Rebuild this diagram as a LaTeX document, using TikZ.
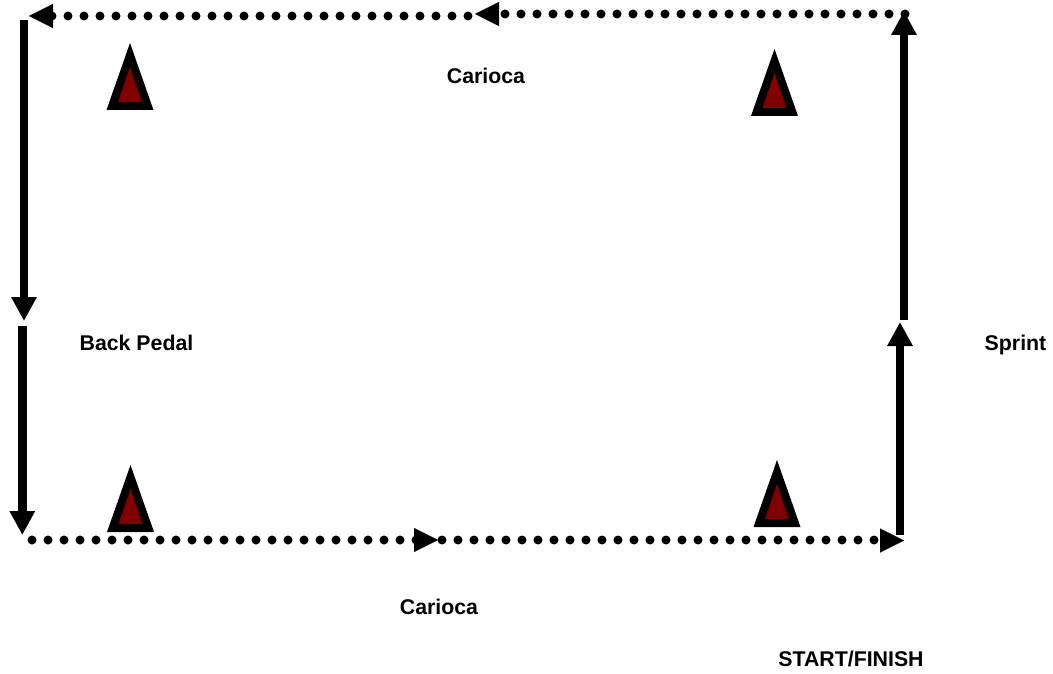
\documentclass[tikz,border=0pt]{standalone}
\usepackage{fontspec}
\setmainfont{Liberation Sans}
\usetikzlibrary{arrows.meta}
\definecolor{cone}{HTML}{800000}
\tikzset{
  lbl/.style={font=\fontsize{21.3pt}{24pt}\selectfont\bfseries,inner sep=0pt,anchor=base},
  solidarrow/.style={line width=8.4pt,-{Triangle[length=24pt,width=24pt]}},
  dotline/.style={line width=9pt,line cap=round,dash pattern=on 0pt off 16pt},
  headonly/.style={line width=0.1pt,-{Triangle[length=24pt,width=24pt]}},
  coneouter/.style={fill=black,draw=none},
  coneinner/.style={fill=cone,draw=none},
}
\newcommand{\myCone}[2]{%
  \fill[coneouter] (#1,#2) -- (#1-23.5,#2+67) -- (#1+23.5,#2+67) -- cycle;
  \fill[coneinner] (#1,#2+24) -- (#1-12,#2+59) -- (#1+12,#2+59) -- cycle;
}
\begin{document}
\begin{tikzpicture}[x=1pt,y=-1pt]
\useasboundingbox (0,0) rectangle (1053,674);
% top, right to left
\coordinate (t0) at (905,14);
\coordinate (t1) at (504,14);
\coordinate (t1b) at (498,14);
\coordinate (t1t) at (475,14);
\coordinate (t2) at (468,16);
\coordinate (t3) at (51,16);
\coordinate (t3b) at (52,16);
\coordinate (t3t) at (29,16);
% left, downwards
\coordinate (l0) at (24,20);
\coordinate (l1) at (24,321);
\coordinate (l2) at (22.3,326);
\coordinate (l3) at (22.3,535);
% bottom, left to right
\coordinate (b0) at (32,540);
\coordinate (b1) at (417,540);
\coordinate (b1b) at (415,540);
\coordinate (b1t) at (438,540);
\coordinate (b2) at (442,540);
\coordinate (b3) at (875,540);
\coordinate (b3b) at (880,540.5);
\coordinate (b3t) at (904,540.5);
% right, upwards
\coordinate (r0) at (900,535);
\coordinate (r1) at (900,322);
\coordinate (r2) at (904,320);
\coordinate (r3) at (904,11);
\myCone{130}{43}
\myCone{774.5}{49}
\myCone{130.5}{465}
\myCone{777}{460}
\draw[dotline] (t0) -- (t1);
\draw[headonly] (t1b) -- (t1t);
\draw[dotline] (t2) -- (t3);
\draw[headonly] (t3b) -- (t3t);
\draw[solidarrow] (l0) -- (l1);
\draw[solidarrow] (l2) -- (l3);
\draw[dotline] (b0) -- (b1);
\draw[headonly] (b1b) -- (b1t);
\draw[dotline] (b2) -- (b3);
\draw[headonly] (b3b) -- (b3t);
\draw[solidarrow] (r0) -- (r1);
\draw[solidarrow] (r2) -- (r3);
\node[lbl] (c1) at (486,84) {Carioca};
\node[lbl] (bp) at (136.5,350) {Back Pedal};
\node[lbl] (sp) at (1015.5,350) {Sprint};
\node[lbl] (c2) at (439,614) {Carioca};
\node[lbl] (sf) at (851,666) {START/FINISH};
\end{tikzpicture}
\end{document}
